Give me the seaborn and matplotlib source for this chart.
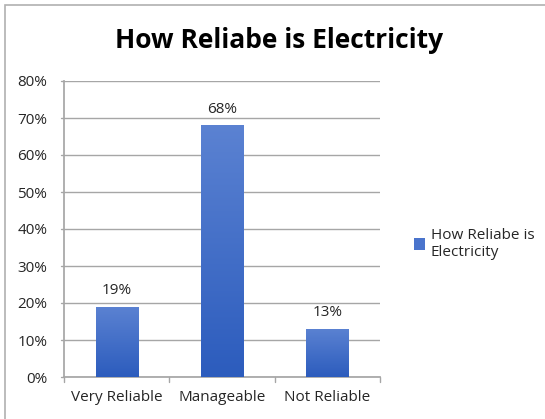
import numpy as np
import pandas as pd
import seaborn as sns
import matplotlib.pyplot as plt
from matplotlib.patches import Rectangle
from matplotlib.colors import LinearSegmentedColormap

categories = ['Very Reliable', 'Manageable', 'Not Reliable']
values = [19, 68, 13]
series_name = 'How Reliabe is Electricity'
yticks = [0, 10, 20, 30, 40, 50, 60, 70, 80]

sns.set_theme(style='white')
plt.rcParams['font.family'] = ['Open Sans', 'DejaVu Sans']

df = pd.DataFrame({'cat': categories, 'val': values})

fig = plt.figure(figsize=(5.45, 4.19), dpi=100)
ax = fig.add_axes([64/545, 1-377/419, (380-64)/545, (377-81)/419])

sns.barplot(data=df, x='cat', y='val', color='#4472c4', width=0.4, ax=ax, zorder=3)

# gradient fill on bars
cmap = LinearSegmentedColormap.from_list('g', ['#2c5cbd', '#5b82d2'])
grad = np.linspace(0, 1, 256).reshape(-1, 1)
for p in ax.patches:
    x0, y0 = p.get_x(), p.get_y()
    w, h = p.get_width(), p.get_height()
    im = ax.imshow(grad, cmap=cmap, origin='lower', aspect='auto',
                   extent=[x0, x0 + w, y0, y0 + h], zorder=3)
    im.set_clip_path(p)
    p.set_facecolor('none')
    p.set_edgecolor('none')

for i, v in enumerate(values):
    ax.text(i, v + 2.4, f'{v}%', ha='center', va='bottom', fontsize=11, color='#262626')

ax.set_xlim(-0.5, 2.5)
ax.set_ylim(0, 80)
ax.set_yticks(yticks)
ax.set_yticklabels([f'{t}%' for t in yticks], fontsize=11, color='#262626')
ax.set_xticks(range(len(categories)))
ax.set_xticklabels(categories, fontsize=11, color='#262626')
ax.tick_params(axis='x', length=0, pad=9)
ax.tick_params(axis='y', length=0, pad=12)
ax.set_xlabel('')
ax.set_ylabel('')
ax.yaxis.grid(True, color='#a6a6a6', linewidth=1, zorder=0)
ax.set_axisbelow(True)

for s in ['top', 'right']:
    ax.spines[s].set_visible(False)
ax.spines['left'].set_color('#a6a6a6')
ax.spines['bottom'].set_color('#a6a6a6')
# category divider ticks on the x axis
for xb in [-0.5, 0.5, 1.5, 2.5]:
    ax.plot([xb, xb], [0, -1.4], color='#a6a6a6', lw=1, clip_on=False)
for t in yticks:
    ax.plot([-0.5, -0.53], [t, t], color='#a6a6a6', lw=1, clip_on=False)

h = [Rectangle((0, 0), 1, 1, facecolor='#4a74cc', edgecolor='none')]
fig.legend(h, ['How Reliabe is\nElectricity'], loc='upper left',
           bbox_to_anchor=(400/545, 1-214/419), frameon=False, fontsize=11,
           handlelength=0.75, handleheight=0.75, handletextpad=0.35,
           labelcolor='#262626')

fig.text(279/545, 1-40/419, 'How Reliabe is Electricity', ha='center', va='center',
         fontsize=19, fontweight='bold', color='black')

fig.patches.append(Rectangle((5/545, -0.1), 1, 1.1 - 5/419, transform=fig.transFigure,
                             fill=False, edgecolor='#b0b0b0', lw=1.2))

fig.savefig('out.png', dpi=100)
